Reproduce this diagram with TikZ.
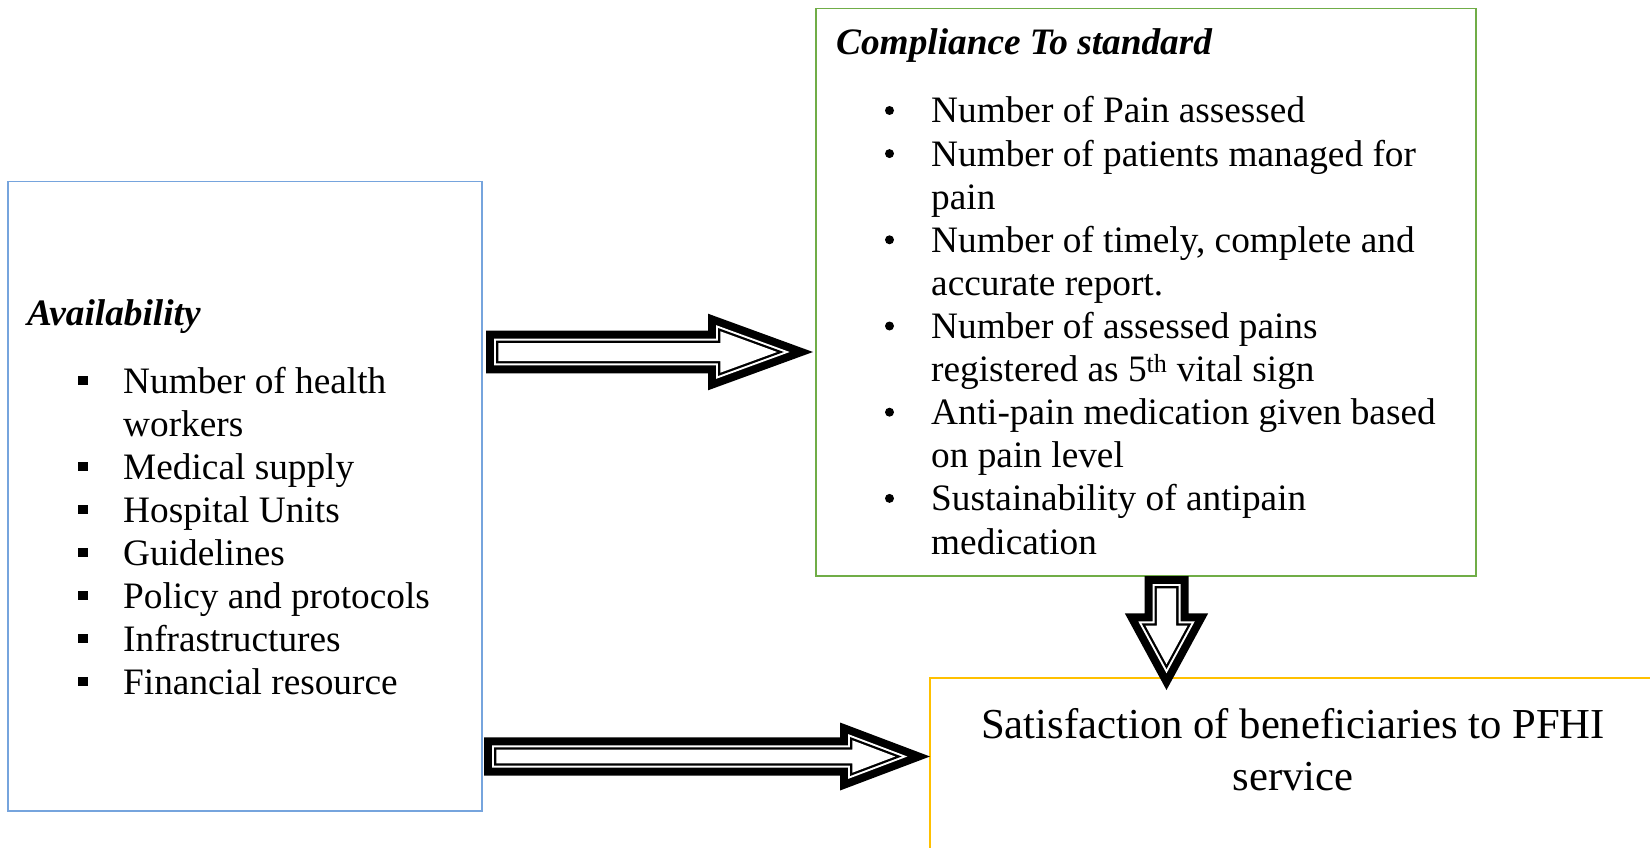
\documentclass[tikz,border=0pt]{standalone}
\usepackage{fontspec}
\setmainfont{Liberation Serif}
\definecolor{boxblue}{RGB}{118,164,221}
\definecolor{boxgreen}{RGB}{112,173,71}
\definecolor{boxyellow}{RGB}{255,192,0}
% block arrow along local s axis; #1 head base, #2 shaft half, #3 head half, #4 tip, #5 inset, #6 colour
\newcommand{\arrowpoly}[6]{%
  \pgfmathsetmacro{\arwL}{veclen(#4-#1,#3)}%
  \pgfmathsetmacro{\arwT}{#4-#5*\arwL/#3}%
  \pgfmathsetmacro{\arwH}{#3*(\arwT-#1-#5)/(#4-#1)}%
  \fill[#6] (#5,{-(#2-#5)}) -- ({#1+#5},{-(#2-#5)}) -- ({#1+#5},-\arwH) -- (\arwT,0)
    -- ({#1+#5},\arwH) -- ({#1+#5},{#2-#5}) -- (#5,{#2-#5}) -- cycle;}
\newcommand{\blockarrow}[4]{%
  \arrowpoly{#1}{#2}{#3}{#4}{0}{black}%
  \arrowpoly{#1}{#2}{#3}{#4}{8}{white}%
  \arrowpoly{#1}{#2}{#3}{#4}{10}{black}%
  \arrowpoly{#1}{#2}{#3}{#4}{12.3}{white}}
\begin{document}
\begin{tikzpicture}[x=1pt,y=-1pt,
  box/.style={rectangle, line width=1.5pt, inner sep=0pt, anchor=north west},
  txt/.style={anchor=base west, inner sep=0pt, font=\fontsize{37.3}{43}\selectfont},
  titletxt/.style={txt, font=\fontsize{37.3}{43}\selectfont\bfseries\itshape},
  bigtxt/.style={anchor=base, inner sep=0pt, font=\fontsize{42.7}{52}\selectfont},
  sqbullet/.style={rectangle, fill=black, minimum size=9.5pt, inner sep=0pt},
  dotbullet/.style={circle, fill=black, minimum size=9pt, inner sep=0pt}]
\useasboundingbox (0,0) rectangle (1650,848);
\clip (0,0) rectangle (1650,848);

% boxes
\node[box, draw=boxblue, minimum width=474pt, minimum height=629pt] (avail) at (7,181) {};
\node[box, draw=boxgreen, minimum width=660pt, minimum height=567pt] (comp) at (815,8) {};
\node[box, draw=boxyellow, minimum width=800pt, minimum height=300pt] (satis) at (929,677) {};

% arrows
\begin{scope}[shift={(486,352)}]
  \blockarrow{222}{21.3}{38.3}{327}
\end{scope}
\begin{scope}[shift={(484,756.5)}]
  \blockarrow{356}{19.2}{34}{446}
\end{scope}
\begin{scope}[shift={(1166.5,576)}, rotate=-90]
  \blockarrow{37.3}{22}{41.7}{114}
\end{scope}

% availability
\node[titletxt] (at) at (27,325) {Availability};
\node[sqbullet] (s1) at (83,380.5) {};
\node[txt] (a1) at (123,393.5) {Number of health};
\node[txt] (a1b) at (123,436.5) {workers};
\node[sqbullet] (s2) at (83,466.5) {};
\node[txt] (a2) at (123,479.5) {Medical supply};
\node[sqbullet] (s3) at (83,509.5) {};
\node[txt] (a3) at (123,522.5) {Hospital Units};
\node[sqbullet] (s4) at (83,552.5) {};
\node[txt] (a4) at (123,565.5) {Guidelines};
\node[sqbullet] (s5) at (83,595.5) {};
\node[txt] (a5) at (123,608.5) {Policy and protocols};
\node[sqbullet] (s6) at (83,638.5) {};
\node[txt] (a6) at (123,651.5) {Infrastructures};
\node[sqbullet] (s7) at (83,681.5) {};
\node[txt] (a7) at (123,694.5) {Financial resource};

% compliance
\node[titletxt] (ct) at (836,55) {Compliance To standard};
\node[dotbullet] (d1) at (889.5,110.5) {};
\node[txt] (c1) at (931,123) {Number of Pain assessed};
\node[dotbullet] (d2) at (889.5,153.6) {};
\node[txt] (c2) at (931,166.1) {Number of patients managed for};
\node[txt] (c2b) at (931,209.2) {pain};
\node[dotbullet] (d3) at (889.5,239.8) {};
\node[txt] (c3) at (931,252.3) {Number of timely, complete and};
\node[txt] (c3b) at (931,295.4) {accurate report.};
\node[dotbullet] (d4) at (889.5,326) {};
\node[txt] (c4) at (931,338.5) {Number of assessed pains};
\node[txt] (c4b) at (931,381.6) {registered as 5\textsuperscript{th} vital sign};
\node[dotbullet] (d5) at (889.5,412.2) {};
\node[txt] (c5) at (931,424.7) {Anti-pain medication given based};
\node[txt] (c5b) at (931,467.8) {on pain level};
\node[dotbullet] (d6) at (889.5,498.4) {};
\node[txt] (c6) at (931,510.9) {Sustainability of antipain};
\node[txt] (c6b) at (931,554) {medication};

% satisfaction
\node[bigtxt] (st1) at (1293,738) {Satisfaction of beneficiaries to PFHI};
\node[bigtxt] (st2) at (1293,790) {service};
\end{tikzpicture}
\end{document}
